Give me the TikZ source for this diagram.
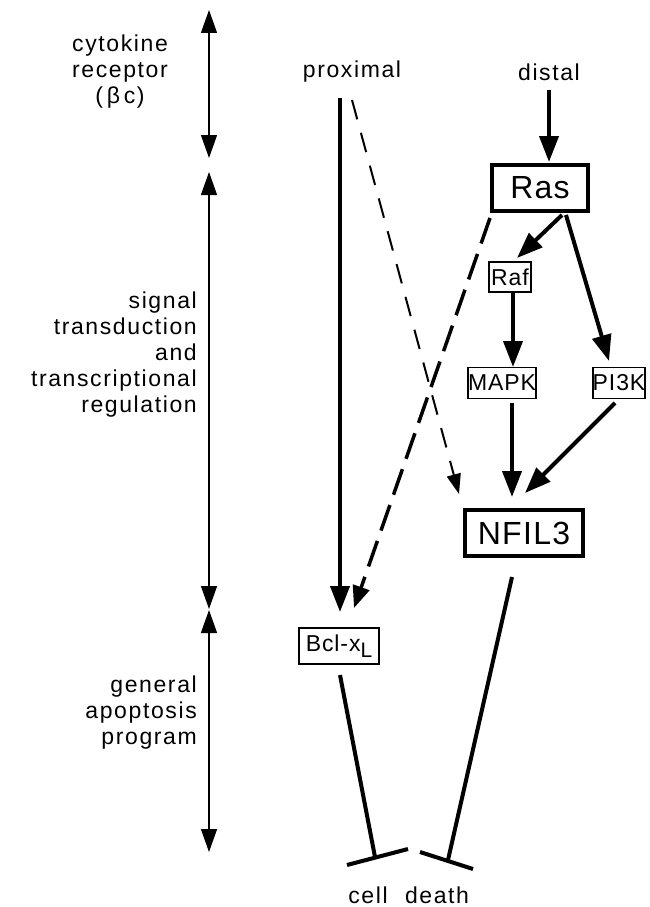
\documentclass[tikz,border=0pt]{standalone}
\usepackage{fontspec}
\setmainfont[LetterSpace=7]{Liberation Sans}
\newfontfamily\boxfont[LetterSpace=4]{Liberation Sans}
\usetikzlibrary{arrows.meta}
\tikzset{
  lbl/.style={font=\fontsize{23}{26}\selectfont, inner sep=0pt},
  bigbox/.style={draw, line width=4pt, inner sep=0pt, font=\boxfont\fontsize{32}{32}\selectfont},
  smallbox/.style={draw, line width=1.8pt, inner sep=0pt, font=\boxfont\fontsize{23}{23}\selectfont},
  sig/.style={line width=4pt, -{Triangle[length=26pt,width=19pt]}},
  rangearrow/.style={line width=1.4pt, {Triangle[length=23pt,width=16pt]}-{Triangle[length=23pt,width=16pt]}},
  dashA/.style={line width=2pt, dash pattern=on 20pt off 14pt, -{Triangle[length=20pt,width=14pt]}},
  dashB/.style={line width=3.5pt, dash pattern=on 27pt off 11pt, -{Triangle[length=22pt,width=17pt]}},
  inhib/.style={line width=4pt, line cap=butt},
}
\begin{document}
\begin{tikzpicture}[x=1pt,y=-1pt]
\useasboundingbox (0,0) rectangle (649,907);
% left labels
\node[lbl, align=center] (cyto) at (120,72) {cytokine\\receptor\\(\,β\,c)};
\node[lbl, align=right, anchor=east] (sigt) at (197,355) {signal\\transduction\\and\\transcriptional\\regulation};
\node[lbl, align=right, anchor=east] (gap) at (197,713) {general\\apoptosis\\program};
% range arrows
\coordinate (r1a) at (209,10);  \coordinate (r1b) at (209,158);
\coordinate (r2a) at (209,172); \coordinate (r2b) at (209,609);
\coordinate (r3a) at (209,610); \coordinate (r3b) at (209,852);
\draw[rangearrow] (r1a) -- (r1b);
\draw[rangearrow] (r2a) -- (r2b);
\draw[rangearrow] (r3a) -- (r3b);
% top labels
\node[lbl] (prox) at (352,72) {proximal};
\node[lbl] (dist) at (549,72) {distal};
% boxes
\node[bigbox, minimum width=96pt, minimum height=46pt] (ras) at (540,188) {Ras};
\node[bigbox, minimum width=118pt, minimum height=46pt] (nfil) at (524,533) {NFIL3};
\node[smallbox, minimum width=42pt, minimum height=30pt] (raf) at (510,277) {Raf};
\node[smallbox, minimum width=67pt, minimum height=31pt] (mapk) at (502,383) {MAPK};
\node[smallbox, minimum width=50pt, minimum height=31pt] (pi3k) at (619,383) {PI3K};
\node[smallbox, minimum width=80pt, minimum height=36pt] (bcl) at (339,646) {Bcl-x\raisebox{-6pt}{\fontsize{21}{21}\selectfont L}};
% connector end points
\coordinate (distS) at (549,90);   \coordinate (rasIn) at (549,162);
\coordinate (proxS) at (340,98);   \coordinate (bclIn) at (340,612);
\coordinate (proxD) at (352,100);  \coordinate (nfilInD) at (459,494);
\coordinate (rasOutD) at (490,218); \coordinate (bclInD) at (354,608);
\coordinate (rasOutA) at (562,215); \coordinate (rafIn) at (517,258);
\coordinate (rafOut) at (513,293);  \coordinate (mapkIn) at (513,367);
\coordinate (rasOutB) at (566,215); \coordinate (pi3kIn) at (609,361);
\coordinate (mapkOut) at (512,403); \coordinate (nfilInA) at (512,497);
\coordinate (pi3kOut) at (615,403); \coordinate (nfilInB) at (525,493);
\coordinate (bclOut) at (340,675);  \coordinate (bclEnd) at (375,857);
\coordinate (barLa) at (347,865);   \coordinate (barLb) at (408,849);
\coordinate (nfilOut) at (512,577); \coordinate (nfilEnd) at (448,860);
\coordinate (barRa) at (420,852);   \coordinate (barRb) at (473,869);
% connectors
\draw[sig] (distS) -- (rasIn);
\draw[sig] (proxS) -- (bclIn);
\draw[dashA] (proxD) -- (nfilInD);
\draw[dashB] (rasOutD) -- (bclInD);
\draw[sig] (rasOutA) -- (rafIn);
\draw[sig] (rafOut) -- (mapkIn);
\draw[sig] (rasOutB) -- (pi3kIn);
\draw[sig] (mapkOut) -- (nfilInA);
\draw[sig] (pi3kOut) -- (nfilInB);
\draw[inhib] (bclOut) -- (bclEnd);
\draw[inhib] (barLa) -- (barLb);
\draw[inhib] (nfilOut) -- (nfilEnd);
\draw[inhib] (barRa) -- (barRb);
% bottom labels
\node[lbl] (cell) at (368,895) {cell};
\node[lbl] (death) at (437,895) {death};
\end{tikzpicture}
\end{document}
